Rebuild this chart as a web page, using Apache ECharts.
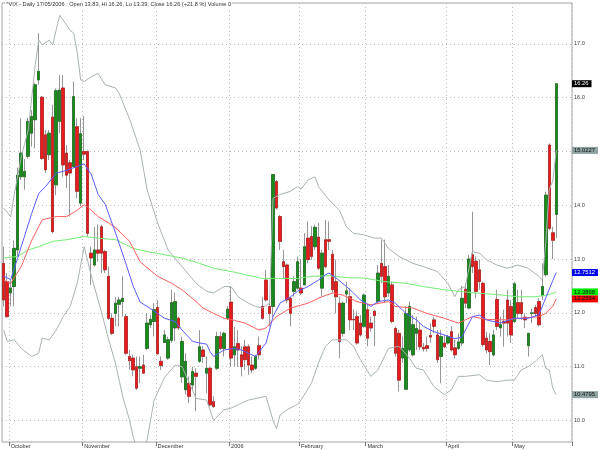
<!DOCTYPE html>
<html><head><meta charset="utf-8">
<script src="https://cdn.jsdelivr.net/npm/echarts@6/dist/echarts.min.js"></script>
<style>html,body{margin:0;padding:0;background:#fff}#c{width:600px;height:450px}</style>
</head><body><div id="c"></div>
<script>
// ---- data ----
const opens = [
12.92,12.58,12.37,12.49,13.17,14.53,14.53,14.91,15.34,15.59,
16.33,16.01,15.31,14.94,15.64,14.38,15.56,16.18,14.97,14.79,
14.72,15.46,14.04,15.00,15.00,13.11,12.89,13.17,13.60,13.14,
12.68,11.90,11.99,12.16,12.21,11.93,11.19,11.16,11.00,10.97,
11.03,11.34,11.78,11.84,12.10,11.10,11.45,11.16,11.49,11.72,
11.90,10.81,10.57,10.69,10.66,10.88,11.10,11.31,10.88,10.97,
10.35,10.97,11.56,11.34,11.90,12.20,11.22,11.43,11.22,11.37,
11.37,11.03,10.97,11.39,12.12,12.61,12.12,12.12,14.44,13.79,
12.95,12.89,12.27,12.40,12.46,12.46,12.52,13.39,13.42,13.23,
13.41,12.46,13.36,13.36,13.09,12.58,12.18,11.62,12.35,12.30,
11.88,11.93,11.81,11.75,12.06,11.81,12.03,12.21,12.92,12.86,
12.37,12.52,11.71,11.62,11.16,10.58,11.31,11.22,11.62,11.68,
11.36,11.39,11.58,11.87,11.59,11.19,11.44,11.44,11.65,11.35,
11.34,11.44,12.44,12.09,13.08,12.96,12.80,12.55,11.53,11.47,
11.22,12.25,11.72,11.84,12.24,12.12,11.84,12.19,12.19,11.92,
11.39,11.99,12.10,12.21,12.32,12.71,15.12,13.49,13.83];
const highs = [
13.23,12.74,12.61,13.35,14.70,15.62,14.86,15.62,15.77,16.27,
17.20,16.03,15.40,15.40,15.87,16.17,16.42,16.42,15.12,14.84,
16.30,15.62,15.62,15.66,15.02,13.23,13.60,13.64,13.64,13.17,
12.86,11.99,12.30,12.30,12.68,11.98,11.31,11.22,11.19,11.19,
11.22,12.00,11.96,12.18,12.24,11.19,11.68,11.56,12.43,12.38,
11.93,11.56,11.25,10.82,11.00,10.97,11.68,11.38,11.19,11.00,
10.45,11.65,11.65,11.65,12.13,12.49,11.74,11.68,11.38,11.50,
11.41,11.19,11.22,11.56,12.30,12.80,12.24,14.57,14.47,13.82,
13.17,12.92,12.30,12.68,13.05,13.00,13.48,13.70,13.61,13.64,
13.67,13.17,13.73,13.70,13.17,12.99,12.30,12.21,12.58,12.46,
12.06,12.03,11.96,12.36,12.15,11.93,12.06,12.89,13.36,13.36,
12.89,12.58,11.75,11.68,11.56,12.12,12.21,11.96,11.93,11.81,
11.44,11.56,11.81,11.93,11.68,11.68,11.59,11.59,11.75,11.50,
11.62,12.50,12.55,13.08,13.88,13.05,12.99,12.58,11.65,11.62,
11.68,12.43,11.93,12.06,12.43,12.24,12.58,12.43,12.43,11.99,
11.62,12.08,12.15,12.27,12.92,14.25,15.15,13.60,16.26];
const lows = [
12.12,11.91,12.12,12.12,13.05,14.47,14.29,14.87,15.09,15.06,
16.24,14.84,14.60,14.84,13.48,14.19,15.34,14.53,14.32,13.79,
14.69,14.13,13.98,14.84,13.42,12.52,12.86,12.95,12.74,12.74,
11.87,11.59,11.75,11.75,11.93,11.22,10.94,10.82,10.57,10.69,
10.88,11.31,11.72,11.56,11.22,10.94,11.44,11.13,11.44,11.47,
11.68,10.70,10.48,10.32,10.57,10.17,11.07,11.07,10.51,10.26,
10.23,10.94,11.31,11.19,11.87,11.00,11.00,11.00,10.82,10.94,
10.85,10.88,10.94,11.13,11.87,12.21,11.75,11.93,13.92,13.17,
12.64,12.18,11.75,12.30,12.43,12.33,12.52,12.92,12.99,13.17,
12.80,12.30,12.83,13.17,12.36,11.99,11.16,11.56,12.18,11.68,
11.68,11.41,11.56,11.72,11.38,11.65,11.38,12.18,12.55,12.18,
12.30,11.81,11.19,10.54,11.07,10.57,11.28,11.19,11.31,11.31,
11.28,11.28,11.44,11.62,11.07,10.69,11.34,11.41,11.28,11.15,
11.31,11.38,12.09,12.06,12.74,12.27,12.43,11.37,11.25,11.03,
11.19,11.68,11.56,11.37,11.56,11.44,11.81,11.90,11.87,11.72,
11.19,11.81,11.93,11.75,12.24,12.68,13.54,13.00,13.39];
const closes = [
12.24,11.93,12.46,13.20,14.56,14.97,14.63,15.56,15.65,16.24,
16.49,14.87,14.66,15.34,13.51,16.13,16.14,14.75,14.56,14.60,
16.02,14.26,15.33,14.95,13.48,13.02,13.17,13.11,13.11,12.80,
11.90,11.62,12.18,12.24,12.27,11.25,11.11,10.94,10.60,11.00,
10.88,11.81,11.88,12.06,11.24,11.02,11.59,11.50,12.19,12.21,
11.72,11.47,11.10,10.45,10.91,10.82,11.37,11.19,10.97,10.29,
10.26,11.56,11.34,11.62,12.07,11.16,11.37,11.31,11.00,11.13,
11.03,10.94,11.19,11.22,11.90,12.24,11.99,14.57,13.95,13.33,
12.86,12.24,11.99,12.58,12.95,12.37,13.23,12.99,13.05,13.59,
12.83,13.11,12.86,13.33,12.43,12.30,11.47,12.18,12.41,11.87,
11.87,11.44,11.59,12.33,11.53,11.72,11.95,12.74,12.68,12.30,
12.68,11.84,11.25,10.75,11.34,11.99,12.12,11.78,11.71,11.37,
11.33,11.34,11.55,11.75,11.13,11.56,11.37,11.56,11.31,11.22,
11.46,12.27,12.18,13.00,12.86,12.40,12.58,11.41,11.31,11.28,
11.59,11.75,11.78,11.81,11.81,11.59,12.54,11.99,11.99,11.87,
11.62,12.00,11.99,11.78,12.49,14.19,13.57,13.35,16.26];

// overlay lines, [candle index, value] read at points along each line
const ma20 = [[0,12.68],[2,12.62],[5,13.23],[8,13.85],[10,14.22],[12,14.35],[15,14.6],[17,14.63],[21,14.72],[23,14.77],[25,14.58],[27,14.2],[29,14.02],[32,13.48],[35,12.9],[37,12.5],[39,12.2],[41,12.12],[44,11.99],[46,11.9],[49,11.84],[51,11.68],[54,11.47],[56,11.44],[58,11.42],[59,11.28],[60,11.19],[63,11.31],[66,11.34],[68,11.31],[72,11.19],[75,11.44],[77,11.93],[79,12.18],[82,12.3],[84,12.4],[87,12.49],[90,12.61],[92,12.71],[93,12.74],[95,12.65],[98,12.49],[100,12.37],[102,12.24],[105,12.12],[107,12.21],[110,12.24],[112,12.18],[115,11.99],[118,11.87],[120,11.75],[123,11.65],[126,11.59],[129,11.52],[131,11.55],[134,11.93],[136,11.96],[138,11.87],[142,11.81],[146,11.9],[150,11.9],[153,11.96],[155,12.28],[157,12.6],[158,12.7512]];
const ma50 = [[0,12.61],[2,12.55],[5,12.86],[8,13.35],[11,13.73],[15,13.79],[18,13.79],[21,13.91],[23,14.01],[25,13.91],[27,13.79],[30,13.67],[32,13.58],[36,13.33],[39,12.95],[44,12.68],[48,12.55],[51,12.43],[55,12.21],[57,12.09],[60,11.99],[63,11.9],[66,11.86],[69,11.81],[73,11.68],[75,11.72],[78,11.93],[82,12.09],[87,12.18],[91,12.3],[94,12.37],[97,12.33],[101,12.21],[105,12.15],[110,12.21],[112,12.12],[117,12.09],[121,11.99],[126,11.9],[130,11.81],[134,11.93],[138,11.88],[143,11.87],[148,11.9],[153,11.93],[155,11.99],[157,12.12],[158,12.2594]];
const maLong = [[0,13.02],[4,13.05],[7,13.17],[10,13.23],[14,13.33],[18,13.36],[23,13.42],[27,13.39],[32,13.36],[37,13.2],[41,13.14],[46,13.08],[51,13.02],[56,12.92],[60,12.83],[65,12.77],[69,12.71],[74,12.64],[79,12.64],[84,12.64],[88,12.68],[93,12.69],[99,12.65],[103,12.65],[109,12.58],[115,12.55],[120,12.49],[126,12.43],[130,12.4],[135,12.37],[141,12.34],[147,12.3],[152,12.3],[156,12.34],[158,12.3898]];
const bandUpper = [[0,13.95],[2,13.79],[3,14.2],[5,14.9],[7,15.4],[8,16.0],[9,16.6],[10,17.07],[11,16.98],[13,17.07],[14,16.98],[15,17.26],[16,17.53],[18,17.35],[19,17.25],[20,17.2],[21,16.85],[22,16.33],[23,16.3],[25,16.39],[27,16.45],[29,16.24],[32,16.18],[33,16.08],[36,15.6],[39,15.03],[41,14.29],[44,13.67],[47,13.17],[51,12.86],[55,12.55],[58,12.4],[60,12.37],[63,12.49],[65,12.49],[67,12.3],[70,12.18],[72,12.12],[74,12.09],[76,12.18],[77,14.13],[79,14.2],[82,14.26],[84,14.35],[85,14.3],[87,14.47],[89,14.53],[90,14.35],[93,14.1],[96,13.91],[98,13.6],[100,13.48],[103,13.45],[106,13.39],[108,13.39],[110,13.2],[113,13.05],[117,12.92],[120,12.86],[124,12.77],[127,12.55],[129,12.3],[130,12.43],[132,12.49],[134,13.14],[136,13.11],[138,12.99],[141,12.89],[144,12.83],[147,12.89],[150,12.83],[153,12.68],[154,12.61],[155,13.3],[156,14.3],[157,14.45],[158,15.0227]];
const bandLower = [[0,11.68],[1,11.47],[3,11.5],[5,11.34],[8,11.19],[10,11.25],[11,11.53],[13,11.5],[15,11.68],[17,11.93],[19,12.12],[21,12.55],[23,13.23],[25,12.7],[28,12.0],[30,11.5],[32,11.05],[34,10.45],[36,10.0],[37,9.7],[39,9.3],[40,9.45],[41,9.64],[43,10.38],[46,10.8],[49,11.03],[51,11.0],[55,10.41],[58,10.38],[60,10.0],[63,10.2],[65,10.23],[68,10.32],[70,10.38],[75,10.45],[77,10.0],[78,9.85],[79,10.1],[81,10.2],[84,10.3],[85,10.38],[88,10.69],[90,11.07],[92,11.38],[94,11.5],[96,11.5],[98,11.5],[100,11.38],[102,11.13],[105,10.82],[107,10.94],[110,11.34],[113,11.38],[116,11.16],[118,10.97],[120,10.94],[123,10.63],[126,10.48],[128,10.57],[130,10.82],[132,10.82],[136,10.85],[138,10.75],[141,10.72],[144,10.75],[146,10.75],[148,10.94],[150,11.0],[152,11.1],[154,11.22],[155,10.97],[156,10.94],[157,10.6],[158,10.4795]];

const tickIndex = [2, 23, 44, 65, 85, 104, 127, 146];
const tickLabels = ['October', 'November', 'December', '2006', 'February', 'March', 'April', 'May'];
const yTicks = [10, 11, 12, 13, 14, 15, 16, 17];
const titleText = '^VIX - Daily 17/05/2006 : Open 13.83, Hi 16.26, Lo 13.39, Close 16.26 (+21.8 %) Volume 0';
const padSlots = 4;

// ---- build ----
const FONT = 'Liberation Sans, Arial, sans-serif';
const categories = [];
for (let i = 0; i < opens.length + padSlots; i++) categories.push(String(i));
const ohlc = opens.map((o, i) => [o, closes[i], lows[i], highs[i]]);
const bodies = opens.map((o, i) => [o, closes[i], Math.min(o, closes[i]), Math.max(o, closes[i])]);
const isTick = (index) => tickIndex.indexOf(index) >= 0;

function tag(value, text, bg, fg) {
  return {
    silent: true, symbol: ['none', 'none'], animation: false,
    lineStyle: { color: 'rgba(0,0,0,0)', width: 1, type: 'solid' },
    emphasis: { disabled: true },
    label: { show: true, position: 'end', distance: 0, formatter: text, opacity: 1,
      backgroundColor: bg, color: fg, fontSize: 5.8, fontFamily: FONT,
      padding: [1, 3, 0, 2], lineHeight: 6 },
    data: [{ yAxis: value }]
  };
}
function lineSeries(data, color, tagBg, tagFg) {
  const last = data[data.length - 1][1];
  return { type: 'line', data: data, symbol: 'none', showSymbol: false, smooth: false,
    animation: false, silent: true, z: 4, clip: true,
    lineStyle: { color: color, width: 1 }, itemStyle: { color: color },
    markLine: tag(last, String(last), tagBg, tagFg) };
}

const chart = echarts.init(document.getElementById('c'));
chart.setOption({
  animation: false,
  backgroundColor: '#fff',
  title: { text: titleText, left: 5, top: 0, padding: [1, 1], backgroundColor: '#fff',
    textStyle: { fontSize: 5.6, fontWeight: 'normal', color: '#333', fontFamily: FONT } },
  grid: { left: 2, right: 28, top: 3, bottom: 8, show: true, borderColor: '#a2a2a2', borderWidth: 1 },
  xAxis: {
    type: 'category', data: categories, boundaryGap: true,
    axisLine: { show: false },
    axisTick: { show: true, interval: isTick, length: 4, lineStyle: { color: '#777', width: 1 } },
    axisLabel: { interval: isTick, formatter: (v, i) => tickLabels[tickIndex.indexOf(i)] || '',
      align: 'left', margin: 1, fontSize: 5.6, color: '#333', fontFamily: FONT },
    splitLine: { show: true, interval: isTick, lineStyle: { color: '#bdbdbd', type: [1, 3], width: 1 } }
  },
  yAxis: {
    type: 'value', position: 'right', min: 9.6, max: 17.76, scale: true,
    axisLine: { show: false },
    axisTick: { show: false, customValues: yTicks },
    axisLabel: { customValues: yTicks, formatter: v => v.toFixed(1), margin: 2,
      fontSize: 5.6, color: '#444', fontFamily: FONT },
    splitLine: { show: true, lineStyle: { color: '#bdbdbd', type: [1, 3], width: 1 } }
  },
  series: [
    { type: 'candlestick', data: ohlc, barWidth: 3, silent: true, z: 2,
      itemStyle: { color: '#1a8c1a', color0: '#e81c1c', borderColor: '#969696', borderColor0: '#969696', borderWidth: 1 } },
    { type: 'candlestick', data: bodies, barWidth: 3, silent: true, z: 3,
      itemStyle: { color: '#1a8c1a', color0: '#e81c1c', borderColor: '#11661a', borderColor0: '#b01515', borderWidth: 0.6 },
      markLine: tag(closes[closes.length - 1], closes[closes.length - 1].toFixed(2), '#000', '#fff') },
    lineSeries(bandUpper, '#a9b3b3', '#90a2a2', '#111'),
    lineSeries(bandLower, '#a9b3b3', '#90a2a2', '#111'),
    lineSeries(maLong, '#74ee74', '#00ee00', '#111'),
    lineSeries(ma50, '#ff6060', '#ee0000', '#111'),
    lineSeries(ma20, '#5c5cff', '#0000ee', '#fff')
  ]
});
</script>
</body></html>
